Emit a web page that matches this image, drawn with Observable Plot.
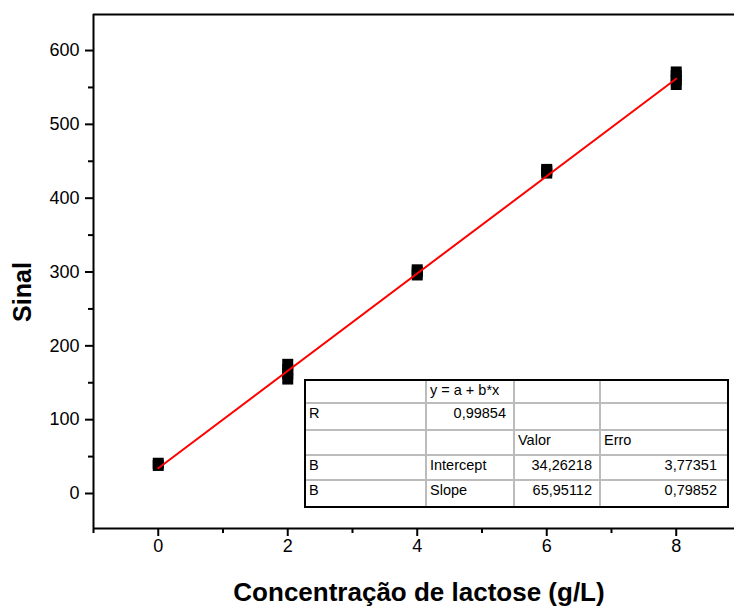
<!DOCTYPE html>
<html>
<head>
<meta charset="utf-8">
<script src="https://cdn.jsdelivr.net/npm/d3@7"></script>
<script src="https://cdn.jsdelivr.net/npm/@observablehq/plot@0.6"></script>
<style>
  html, body { margin: 0; padding: 0; background: #fff; overflow: hidden; }
  #wrap { position: relative; width: 734px; height: 609px; font-family: "Liberation Sans", Arial, sans-serif; }
  #wrap svg text { font-size: 18px !important; font-family: "Liberation Sans", Arial, sans-serif; fill: #000; }
  .title { position: absolute; font-weight: bold; color: #000; white-space: nowrap; }
  .tbl { position: absolute; left: 305px; top: 380px; width: 423px; height: 127px; }
  .cell { position: absolute; font-size: 14.5px; color: #000; white-space: nowrap; line-height: 1; }
  .hl { position: absolute; height: 2px; background: #bcbcbc; }
  .vl { position: absolute; width: 2px; background: #bcbcbc; }
</style>
</head>
<body>
<div id="wrap"></div>
<script>
// ---- data ----
const concentrations = [0, 0, 2, 2, 2, 2, 4, 4, 4, 6, 6, 6, 8, 8, 8, 8];
const signals = [38, 41, 155, 162, 168, 175, 296, 300, 303, 434, 437, 439, 554, 560, 566, 571];
const fitX = [0, 8];
const fitY = [34.26218, 561.87114];
const xMajorTicks = [0, 2, 4, 6, 8];
const xMinorTicks = [-1, 1, 3, 5, 7];
const yMajorTicks = [0, 100, 200, 300, 400, 500, 600];
const yMinorTicks = [50, 150, 250, 350, 450, 550];
const tableRows = [
  ["", "y = a + b*x", "", ""],
  ["R", "0,99854", "", ""],
  ["", "", "Valor", "Erro"],
  ["B", "Intercept", "34,26218", "3,77351"],
  ["B", "Slope", "65,95112", "0,79852"]
];
const xLabel = "Concentração de lactose (g/L)";
const yLabel = "Sinal";

const points = concentrations.map((c, i) => ({x: c, y: signals[i]}));
const fit = fitX.map((x, i) => ({x, y: fitY[i]}));

const xDomain = [-1, 8.9];
const yDomain = [-47.4, 648.8];

const chart = Plot.plot({
  width: 734,
  height: 609,
  marginLeft: 93,
  marginTop: 14,
  marginBottom: 81,
  marginRight: 0,
  style: {fontFamily: "'Liberation Sans', Arial, sans-serif", fontSize: "18px", color: "#000", background: "#fff"},
  x: {domain: xDomain},
  y: {domain: yDomain},
  marks: [
    Plot.axisX({ticks: xMajorTicks, tickSize: 8, tickPadding: 3, tickFormat: d => String(d), strokeWidth: 2, label: null, fontSize: 18}),
    Plot.axisX({ticks: xMinorTicks, tickSize: 5, tickFormat: () => "", strokeWidth: 2, label: null}),
    Plot.axisY({ticks: yMajorTicks, tickSize: 8, tickPadding: 6, tickFormat: d => String(d), strokeWidth: 2, label: null, fontSize: 18}),
    Plot.axisY({ticks: yMinorTicks, tickSize: 5, tickFormat: () => "", strokeWidth: 2, label: null}),
    Plot.ruleX([xDomain[0]], {stroke: "#000", strokeWidth: 2}),
    Plot.ruleY([yDomain[0], yDomain[1]], {stroke: "#000", strokeWidth: 2}),
    Plot.dot(points, {x: "x", y: "y", symbol: "square", r: 6.2, fill: "#000", stroke: null}),
    Plot.line(fit, {x: "x", y: "y", stroke: "#ff0000", strokeWidth: 2})
  ]
});

const wrap = document.getElementById("wrap");
wrap.appendChild(chart);

// axis titles
const yt = document.createElement("div");
yt.className = "title";
yt.textContent = yLabel;
yt.style.fontSize = "25px";
yt.style.left = "22px";
yt.style.top = "292px";
yt.style.transform = "translate(-50%,-50%) rotate(-90deg)";
wrap.appendChild(yt);

const xt = document.createElement("div");
xt.className = "title";
xt.textContent = xLabel;
xt.style.fontSize = "26px";
xt.style.left = "419px";
xt.style.top = "592px";
xt.style.transform = "translate(-50%,-50%)";
wrap.appendChild(xt);

// results table
const tbl = document.createElement("div");
tbl.className = "tbl";
wrap.appendChild(tbl);
const colEdges = [0, 121, 209, 295, 423];
const rowEdges = [0, 23, 50, 75, 100, 127];
const rightAligned = (r, c) => /^[0-9]/.test(tableRows[r][c]);
for (let i = 1; i < rowEdges.length - 1; i++) {
  const l = document.createElement("div");
  l.className = "hl";
  l.style.left = "0px"; l.style.width = "423px"; l.style.top = (rowEdges[i] - 1) + "px";
  tbl.appendChild(l);
}
for (let j = 1; j < colEdges.length - 1; j++) {
  const l = document.createElement("div");
  l.className = "vl";
  l.style.top = "0px"; l.style.height = "127px"; l.style.left = (colEdges[j] - 1) + "px";
  tbl.appendChild(l);
}
const border = document.createElement("div");
border.style.cssText = "position:absolute;left:-1px;top:-1px;width:425px;height:129px;border:2px solid #000;box-sizing:border-box;";
tbl.appendChild(border);
tableRows.forEach((row, r) => {
  row.forEach((txt, c) => {
    if (!txt) return;
    const d = document.createElement("div");
    d.className = "cell";
    d.textContent = txt;
    d.style.top = (rowEdges[r] + 3) + "px";
    if (rightAligned(r, c)) {
      const pad = c === 3 ? 11 : 8;
      d.style.right = (423 - colEdges[c + 1] + pad) + "px";
    } else {
      d.style.left = (colEdges[c] + 4) + "px";
    }
    tbl.appendChild(d);
  });
});
</script>
</body>
</html>
